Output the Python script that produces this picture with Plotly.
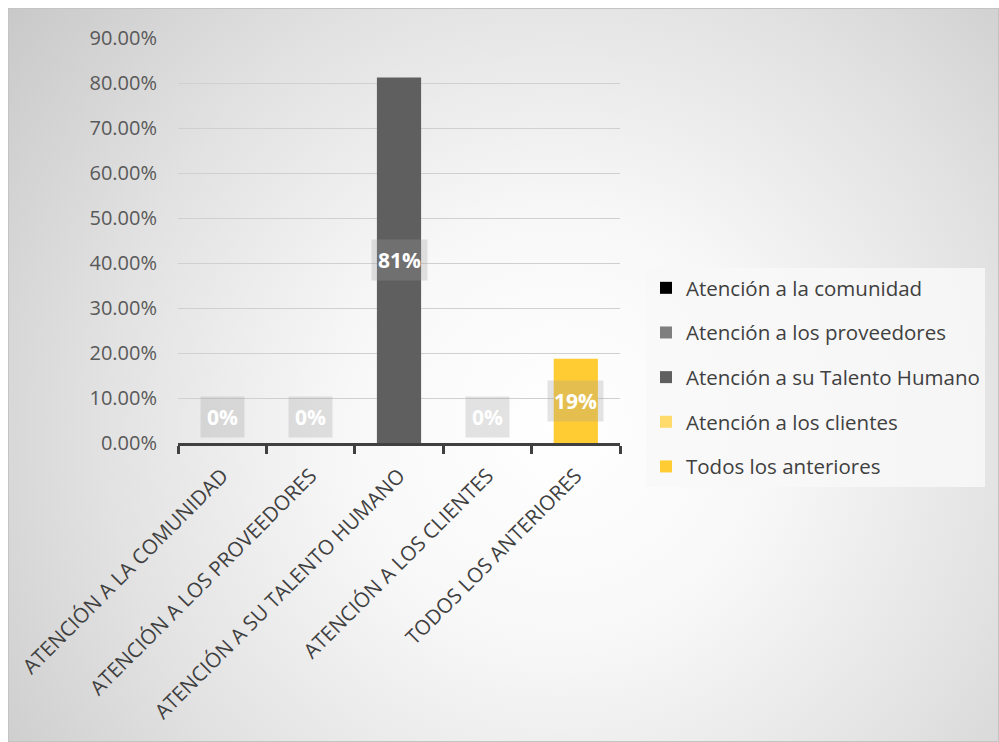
import base64
import plotly.graph_objects as go

# Survey results: share of answers per option
categories = [
    "ATENCIÓN A LA COMUNIDAD",
    "ATENCIÓN A LOS PROVEEDORES",
    "ATENCIÓN A SU TALENTO HUMANO",
    "ATENCIÓN A LOS CLIENTES",
    "TODOS LOS ANTERIORES",
]
legend_names = [
    "Atención a la comunidad",
    "Atención a los proveedores",
    "Atención a su Talento Humano",
    "Atención a los clientes",
    "Todos los anteriores",
]
values = [0.0, 0.0, 0.8125, 0.0, 0.1875]
value_labels = ["0%", "0%", "81%", "0%", "19%"]
colors = ["#000000", "#7f7f7f", "#5f5f5f", "#ffdb6b", "#ffcc33"]
y_ticks = [0.0, 0.1, 0.2, 0.3, 0.4, 0.5, 0.6, 0.7, 0.8, 0.9]

W, H = 999, 742
L, R, T, B = 178, 379, 38, 299
plot_w = W - L - R
plot_h = H - T - B
y_max = 0.9

FONT = "Open Sans"

fig = go.Figure()
for i, (cat, name, val, col) in enumerate(zip(categories, legend_names, values, colors)):
    fig.add_trace(go.Bar(
        x=[cat], y=[val], name=name, width=0.5,
        marker=dict(color=col, line=dict(width=0)),
        legendgroup=f"g{i}", showlegend=True,
        hoverinfo="skip",
    ))

# Data labels with a translucent grey box, kept inside the plot area
for cat, val, lab in zip(categories, values, value_labels):
    y_lab = max(val / 2, 0.058)
    fig.add_annotation(
        x=cat, y=y_lab, xref="x", yref="y", text=f"<b>{lab}</b>",
        showarrow=False, font=dict(family=FONT, size=21, color="white"),
        bgcolor="rgba(157,157,157,0.28)", borderpad=6,
    )

# Radial grey background of the chart area
svg = f"""<svg xmlns='http://www.w3.org/2000/svg' width='991' height='734' viewBox='0 0 991 734'>
<defs><radialGradient id='g' cx='552' cy='422' r='700' gradientUnits='userSpaceOnUse'>
<stop offset='0' stop-color='#ffffff'/>
<stop offset='0.3' stop-color='#f8f8f8'/>
<stop offset='0.65' stop-color='#e2e2e2'/>
<stop offset='1' stop-color='#c8c8c8'/>
</radialGradient></defs>
<rect width='991' height='734' fill='url(#g)'/>
<rect x='0.5' y='0.5' width='990' height='733' fill='none' stroke='#c4c4c4' stroke-width='1'/>
</svg>"""
src = "data:image/svg+xml;base64," + base64.b64encode(svg.encode()).decode()


def px_x(px):
    return (px - L) / plot_w


def px_y(py):
    return (H - B - py) / plot_h


fig.add_layout_image(
    source=src, xref="paper", yref="paper",
    x=px_x(8), y=px_y(8), sizex=(W - 8) / plot_w, sizey=(H - 8) / plot_h,
    xanchor="left", yanchor="top", sizing="stretch", layer="below",
)

fig.update_layout(
    width=W, height=H,
    margin=dict(l=L, r=R, t=T, b=B, autoexpand=False),
    paper_bgcolor="white",
    plot_bgcolor="rgba(0,0,0,0)",
    barmode="overlay",
    font=dict(family=FONT, color="#595959"),
    legend=dict(
        x=px_x(646), y=px_y(268), xanchor="left", yanchor="top",
        bgcolor="rgba(248,248,248,0.85)", borderwidth=0,
        font=dict(family=FONT, size=20.5, color="#404040"),
        traceorder="grouped", tracegroupgap=15,
        itemclick=False, itemdoubleclick=False,
    ),
    xaxis=dict(
        categoryorder="array", categoryarray=categories,
        tickangle=-45, tickfont=dict(family=FONT, size=20.5, color="#404040"),
        showline=True, linecolor="#404040", linewidth=2.5,
        ticks="outside", tickson="boundaries", ticklen=8, tickwidth=2.5, tickcolor="#404040",
        ticklabelstandoff=10,
        showgrid=False, fixedrange=True,
    ),
    yaxis=dict(
        range=[0, y_max], tickvals=y_ticks, tickformat=".2%",
        tickfont=dict(family=FONT, size=20, color="#595959"),
        showgrid=True, gridcolor="#d0d0d0", gridwidth=1,
        showline=False, zeroline=False, ticks="", ticklabelstandoff=20,
        fixedrange=True,
    ),
)

fig.write_html("out.html")
